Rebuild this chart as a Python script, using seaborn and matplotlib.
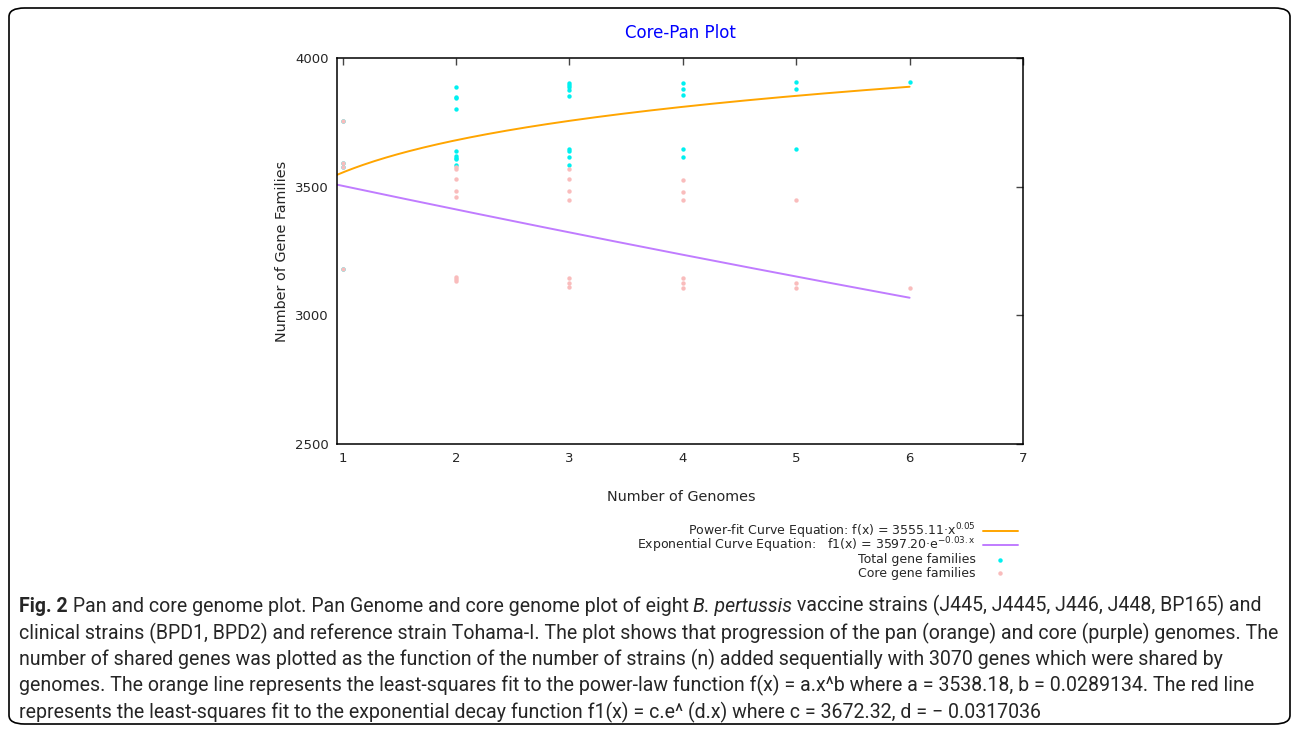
import numpy as np
import pandas as pd
import matplotlib
matplotlib.use("Agg")
import matplotlib.pyplot as plt
import seaborn as sns
from matplotlib.patches import FancyBboxPatch
from matplotlib.lines import Line2D

# --- data ---
total_x = [1, 1, 1, 1,
           2, 2, 2, 2, 2, 2, 2, 2, 2,
           3, 3, 3, 3, 3, 3, 3, 3, 3,
           4, 4, 4, 4, 4,
           5, 5, 5,
           6]
total_y = [3756, 3593, 3578, 3181,
           3889, 3850, 3846, 3802, 3640, 3619, 3613, 3606, 3584,
           3902, 3895, 3886, 3876, 3854, 3645, 3640, 3615, 3586,
           3904, 3880, 3855, 3646, 3617,
           3905, 3881, 3648,
           3905]

core_x = [1, 1, 1, 1,
          2, 2, 2, 2, 2, 2, 2, 2,
          3, 3, 3, 3, 3, 3, 3,
          4, 4, 4, 4, 4, 4,
          5, 5, 5,
          6]
core_y = [3756, 3593, 3578, 3181,
          3575, 3569, 3531, 3484, 3460, 3150, 3143, 3135,
          3568, 3529, 3482, 3450, 3147, 3127, 3110,
          3527, 3479, 3448, 3144, 3127, 3108,
          3447, 3125, 3106,
          3105]

# fitted curves (coefficients from the legend)
pow_a, pow_b = 3555.11, 0.05
exp_c, exp_d = 3597.20, -0.0265
fit_x_min, fit_x_max = 0.95, 6

x_ticks = [1, 2, 3, 4, 5, 6, 7]
y_ticks = [2500, 3000, 3500, 4000]

legend_labels = ["Power-fit Curve Equation: f(x) = 3555.11\u00b7x$^{0.05}$",
                 "Exponential Curve Equation:   f1(x) = 3597.20\u00b7e$^{-0.03.x}$",
                 "Total gene families",
                 "Core gene families"]

caption = [
    [("Fig. 2", "bold"), (" Pan and core genome plot. Pan Genome and core genome plot of eight ", "normal"),
     ("B. pertussis", "italic"), (" vaccine strains (J445, J4445, J446, J448, BP165) and", "normal")],
    [("clinical strains (BPD1, BPD2) and reference strain Tohama-I. The plot shows that progression of the pan (orange) and core (purple) genomes. The", "normal")],
    [("number of shared genes was plotted as the function of the number of strains (n) added sequentially with 3070 genes which were shared by", "normal")],
    [("genomes. The orange line represents the least-squares fit to the power-law function f(x) = a.x^b where a = 3538.18, b = 0.0289134. The red line", "normal")],
    [("represents the least-squares fit to the exponential decay function f1(x) = c.e^ (d.x) where c = 3672.32, d = \u2212 0.0317036", "normal")],
]

orange, purple, cyan, pink = "#ffa500", "#c07cff", "#00f0f0", "#f9bcbc"

# --- figure ---
sns.set_style("white")
plt.rcParams["font.family"] = ["DejaVu Sans"]
plt.rcParams["mathtext.default"] = "regular"

W, H = 1292, 729
fig = plt.figure(figsize=(W / 100, H / 100), dpi=100)
ax = fig.add_axes([337 / W, 1 - 444 / H, (1023 - 337) / W, (444 - 58) / H])

xs = np.linspace(fit_x_min, fit_x_max, 200)
curves = pd.DataFrame({"x": xs,
                       "pow": pow_a * xs ** pow_b,
                       "exp": exp_c * np.exp(exp_d * xs)})

sns.lineplot(data=curves, x="x", y="pow", ax=ax, color=orange, lw=1.4)
sns.lineplot(data=curves, x="x", y="exp", ax=ax, color=purple, lw=1.4)
sns.scatterplot(x=total_x, y=total_y, ax=ax, color=cyan, s=10, linewidth=0)
sns.scatterplot(x=core_x, y=core_y, ax=ax, color=pink, s=10, linewidth=0)

ax.set_xlim(0.95, 7)
ax.set_ylim(2500, 4000)
ax.set_xticks(x_ticks)
ax.set_yticks(y_ticks)
ax.tick_params(direction="in", length=5, width=1, top=True, right=True,
               labelsize=9.5, color="#444444", pad=6)
for s in ax.spines.values():
    s.set_color("black")
    s.set_linewidth(1.1)

ax.set_xlabel("")
ax.set_ylabel("")
fig.text(681 / W, 1 - 497 / H, "Number of Genomes", ha="center", va="center", fontsize=10.4)
fig.text(282 / W, 1 - 251 / H, "Number of Gene Families", ha="center", va="center",
         rotation=90, fontsize=10.4)
fig.text(680 / W, 1 - 33 / H, "Core-Pan Plot", ha="center", va="center",
         fontsize=12, color="#0000ff")

# gnuplot-style key: right-aligned text, sample to the right
key_rows = [531, 545, 560, 573]
for lab, yy, col, kind in zip(legend_labels, key_rows,
                              [orange, purple, cyan, pink],
                              ["line", "line", "dot", "dot"]):
    fy = 1 - yy / H
    fig.text(976 / W, fy, lab, ha="right", va="center", fontsize=9)
    if kind == "line":
        fig.add_artist(Line2D([983 / W, 1018 / W], [fy, fy], color=col, lw=1.4,
                              transform=fig.transFigure))
    else:
        fig.add_artist(Line2D([1000 / W], [fy], color=col, marker="o", ms=3.2,
                              mew=0, ls="none", transform=fig.transFigure))

# border box
fig.patches.append(FancyBboxPatch((9 / W, 5 / H), 1281 / W, 716 / H,
                                  boxstyle="round,pad=0,rounding_size=0.012",
                                  transform=fig.transFigure, fill=False,
                                  edgecolor="black", linewidth=1.2))

# caption: pieces chained left to right, then scaled so the widest line fits
cap_family = ["Roboto", "DejaVu Sans"]
line_y = [606, 633, 659, 685, 712]
cap_texts = []
line_ends = []
for pieces, yy in zip(caption, line_y):
    prev = None
    for txt, style in pieces:
        kw = dict(fontsize=13, family=cap_family,
                  weight="bold" if style == "bold" else "normal",
                  style="italic" if style == "italic" else "normal")
        if prev is None:
            prev = fig.text(19 / W, 1 - yy / H, txt, ha="left", va="center", **kw)
        else:
            prev = ax.annotate(txt, xy=(1, 0), xycoords=prev, ha="left", va="bottom",
                               annotation_clip=False, **kw)
        cap_texts.append(prev)
    line_ends.append(prev)

renderer = fig.canvas.get_renderer()
fig.canvas.draw()
widest = max(t.get_window_extent(renderer).x1 for t in line_ends)
scale = (1277 - 19) / (widest - 19)
for t in cap_texts:
    t.set_fontsize(13 * scale)

fig.savefig("out.png", dpi=100)
